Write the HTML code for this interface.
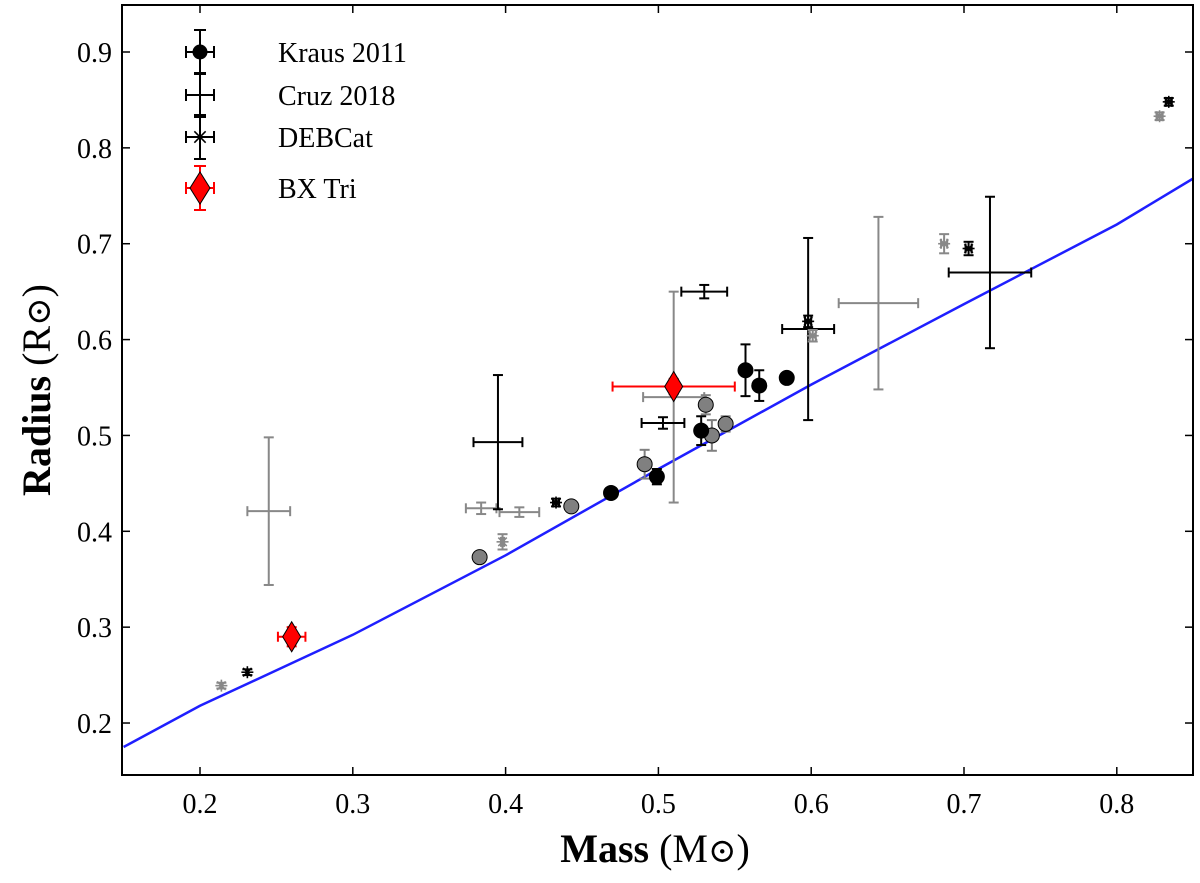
<!DOCTYPE html>
<html><head><meta charset="utf-8">
<style>
html,body{margin:0;padding:0;background:#fff;}
svg{display:block;font-family:"Liberation Serif","DejaVu Serif",serif;}
</style></head>
<body>
<svg id="chart" width="1200" height="883" viewBox="0 0 1200 883">
  <g id="grid"></g>
  <g id="marks"></g>
  <g id="axes"></g>
  <g id="legend"></g>
  <text x="655" y="862" font-size="40" text-anchor="middle"><tspan font-weight="bold">Mass</tspan> (M<tspan font-size="34">⊙</tspan>)</text>
  <text transform="translate(50,390) rotate(-90)" font-size="40" text-anchor="middle"><tspan font-weight="bold">Radius</tspan> (R<tspan font-size="34">⊙</tspan>)</text>
</svg>
<script>
const xTicks = [0.2,0.3,0.4,0.5,0.6,0.7,0.8];
const yTicks = [0.2,0.3,0.4,0.5,0.6,0.7,0.8,0.9];
const modelMass = [0.15,0.2,0.3,0.4,0.5,0.6,0.7,0.8,0.85];
const modelRadius = [0.175,0.218,0.292,0.375,0.465,0.553,0.637,0.72,0.768];
// Kraus 2011: [mass, radius, xerr, yerr]
const krausBlack = [[0.469,0.440,0,0.005],[0.499,0.457,0,0.008],[0.528,0.505,0,0.015],[0.557,0.568,0,0.027],[0.566,0.552,0,0.016],[0.584,0.560,0,0.004]];
const krausGray = [[0.383,0.373,0,0],[0.443,0.426,0,0.005],[0.491,0.470,0,0.015],[0.531,0.532,0,0.010],[0.535,0.500,0,0.016],[0.544,0.512,0,0.008]];
const cruzBlack = [[0.395,0.493,0.016,0.070],[0.598,0.611,0.017,0.095],[0.717,0.670,0.027,0.079],[0.530,0.650,0.015,0.007],[0.503,0.513,0.014,0.006]];
const cruzGray = [[0.245,0.421,0.014,0.077],[0.510,0.540,0.020,0.110],[0.644,0.638,0.026,0.090],[0.384,0.424,0.010,0.006],[0.409,0.420,0.013,0.005]];
const debBlack = [[0.231,0.253,0,0.003],[0.433,0.430,0.002,0.004],[0.598,0.619,0.002,0.006],[0.703,0.695,0.002,0.007],[0.834,0.848,0.002,0.004]];
const debGray = [[0.214,0.239,0,0.003],[0.398,0.389,0.001,0.008],[0.601,0.604,0.002,0.006],[0.687,0.700,0.002,0.010],[0.828,0.833,0.002,0.004]];
const bxTri = [[0.260,0.290,0.009,0.010],[0.510,0.551,0.040,0.008]];

const L=122,R=1193,T=5,B=775;
function xs(v){return 200+(v-0.2)*1528;}
function ys(v){return 52+(0.9-v)*958.6;}
const NS="http://www.w3.org/2000/svg";
function el(tag,attrs,parent){const e=document.createElementNS(NS,tag);for(const k in attrs)e.setAttribute(k,attrs[k]);parent.appendChild(e);return e;}
const marks=document.getElementById('marks'), axes=document.getElementById('axes'), legend=document.getElementById('legend');

// model line
let d=modelMass.map((m,i)=>(i?'L':'M')+xs(m).toFixed(1)+','+ys(modelRadius[i]).toFixed(1)).join(' ');
const cp=el('clipPath',{id:'clip'},marks); el('rect',{x:L,y:T,width:R-L,height:B-T},cp);
const line=el('path',{d:d,fill:'none',stroke:'#1f1fff','stroke-width':2.5,'clip-path':'url(#clip)'},marks);



function errbar(g,x,y,xe,ye,color,w,cap){
  if(ye>0){el('line',{x1:xs(x),x2:xs(x),y1:ys(y-ye),y2:ys(y+ye),stroke:color,'stroke-width':w},g);
    el('line',{x1:xs(x)-cap,x2:xs(x)+cap,y1:ys(y-ye),y2:ys(y-ye),stroke:color,'stroke-width':w},g);
    el('line',{x1:xs(x)-cap,x2:xs(x)+cap,y1:ys(y+ye),y2:ys(y+ye),stroke:color,'stroke-width':w},g);}
  if(xe>0){el('line',{x1:xs(x-xe),x2:xs(x+xe),y1:ys(y),y2:ys(y),stroke:color,'stroke-width':w},g);
    el('line',{x1:xs(x-xe),x2:xs(x-xe),y1:ys(y)-cap,y2:ys(y)+cap,stroke:color,'stroke-width':w},g);
    el('line',{x1:xs(x+xe),x2:xs(x+xe),y1:ys(y)-cap,y2:ys(y)+cap,stroke:color,'stroke-width':w},g);}
}
function star(g,cx,cy,r,color){
  for(let a=0;a<4;a++){const t=a*Math.PI/4;el('line',{x1:cx-r*Math.cos(t),y1:cy-r*Math.sin(t),x2:cx+r*Math.cos(t),y2:cy+r*Math.sin(t),stroke:color,'stroke-width':1.6},g);}
}
function drawSet(arr,name,color,kind){
  arr.forEach((p,i)=>{
    const g=el('g',{},marks);
    
    
    const cx=xs(p[0]),cy=ys(p[1]);
    errbar(g,p[0],p[1],p[2],p[3],kind==='bx'?'#ff0000':color,kind==='cruz'?2:2,5);
    if(kind==='circle') el('circle',{cx:cx,cy:cy,r:7.5,fill:color,stroke:'#000','stroke-width':1},g);
    else if(kind==='star') star(g,cx,cy,6,color);
    else if(kind==='bx') el('path',{d:`M${cx},${cy-15} L${cx+9},${cy} L${cx},${cy+15} L${cx-9},${cy} Z`,fill:'#ff0000',stroke:'#000','stroke-width':1},g);
  });
}
drawSet(cruzGray,'cruz-2018-gray','#888','cruz');
drawSet(cruzBlack,'cruz-2018','#000','cruz');
drawSet(krausGray,'kraus-2011-gray','#808080','circle');
drawSet(krausBlack,'kraus-2011','#000','circle');
drawSet(debGray,'debcat-gray','#888','star');
drawSet(debBlack,'debcat','#000','star');
drawSet(bxTri,'bx-tri','#f00','bx');

// axes frame
const frame=el('rect',{x:L,y:T,width:R-L,height:B-T,fill:'none',stroke:'#000','stroke-width':2},axes);


xTicks.forEach(t=>{
  const x=xs(t);
  el('line',{x1:x,x2:x,y1:B,y2:B-8,stroke:'#000','stroke-width':1.5},axes);
  el('line',{x1:x,x2:x,y1:T,y2:T+8,stroke:'#000','stroke-width':1.5},axes);
  const tx=el('text',{x:x,y:B+38,'font-size':28,'text-anchor':'middle'},axes);
  tx.textContent=t.toFixed(1);
  
  
});
yTicks.forEach(t=>{
  const y=ys(t);
  el('line',{x1:L,x2:L+8,y1:y,y2:y,stroke:'#000','stroke-width':1.5},axes);
  el('line',{x1:R,x2:R-8,y1:y,y2:y,stroke:'#000','stroke-width':1.5},axes);
  const ty=el('text',{x:L-10,y:y+10,'font-size':28,'text-anchor':'end'},axes);
  ty.textContent=t.toFixed(1);
  
  
});

// legend
const legItems=[['Kraus 2011','circle',52],['Cruz 2018','cross',95],['DEBCat','star',137],['BX Tri','bx',188]];
legItems.forEach(it=>{
  const g=el('g',{},legend);
  
  
  const cx=200,cy=it[2],c=it[1]==='bx'?'#f00':'#000';
  el('line',{x1:cx-14,x2:cx+14,y1:cy,y2:cy,stroke:c,'stroke-width':2},g);
  el('line',{x1:cx,x2:cx,y1:cy-22,y2:cy+22,stroke:c,'stroke-width':2},g);
  [[cx-14,cy-6,cx-14,cy+6],[cx+14,cy-6,cx+14,cy+6],[cx-6,cy-22,cx+6,cy-22],[cx-6,cy+22,cx+6,cy+22]].forEach(a=>el('line',{x1:a[0],y1:a[1],x2:a[2],y2:a[3],stroke:c,'stroke-width':2},g));
  if(it[1]==='circle') el('circle',{cx:cx,cy:cy,r:7.5,fill:'#000'},g);
  if(it[1]==='star') star(g,cx,cy,8,'#000');
  if(it[1]==='bx') el('path',{d:`M${cx},${cy-16} L${cx+10},${cy} L${cx},${cy+16} L${cx-10},${cy} Z`,fill:'#f00',stroke:'#000','stroke-width':1},g);
  const t=el('text',{x:278,y:cy+10,'font-size':28},g);
  t.textContent=it[0];
});
</script>
</body></html>
